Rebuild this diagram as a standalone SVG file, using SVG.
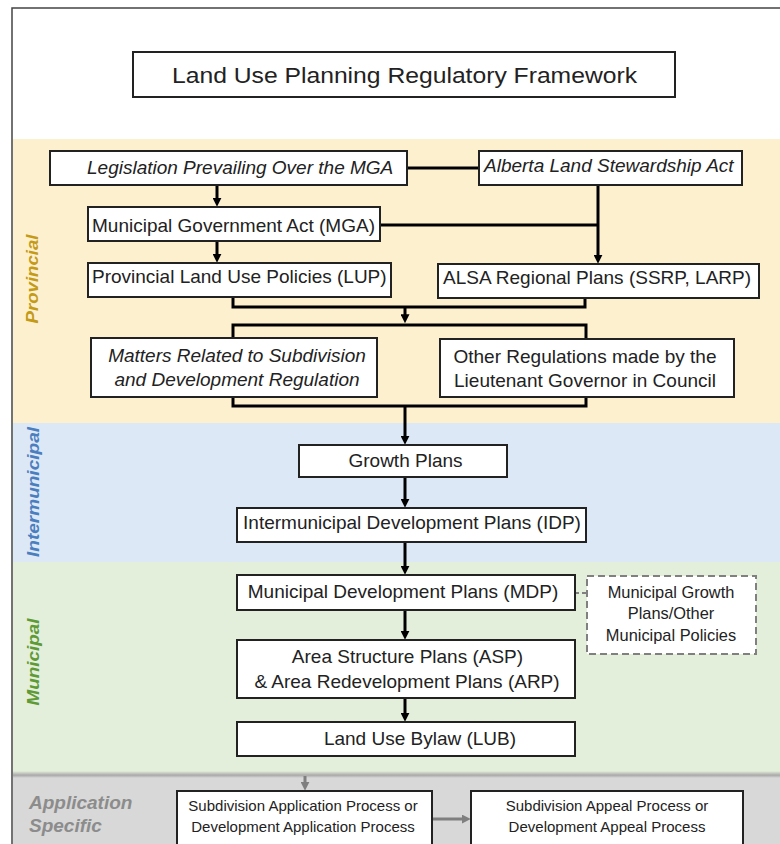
<svg xmlns="http://www.w3.org/2000/svg" width="780" height="844" viewBox="0 0 780 844">
  <defs>
    <marker id="arrow" viewBox="0 0 10 10" refX="3" refY="5" markerWidth="9" markerHeight="9" markerUnits="userSpaceOnUse" orient="auto">
      <path d="M0,0 L10,5 L0,10 z" fill="#000"/>
    </marker>
    <marker id="arrow-gray" viewBox="0 0 10 10" refX="3" refY="5" markerWidth="9" markerHeight="9" markerUnits="userSpaceOnUse" orient="auto">
      <path d="M0,0 L10,5 L0,10 z" fill="#7f7f7f"/>
    </marker>
    <linearGradient id="band-shadow" x1="0" y1="0" x2="0" y2="1">
      <stop offset="0" stop-color="#e3efda"/>
      <stop offset="0.6" stop-color="#a9a9a9"/>
      <stop offset="1" stop-color="#d8d8d8"/>
    </linearGradient>
    <style>
      text { font-family: "Liberation Sans", Arial, sans-serif; fill: #222; }
      .box { fill: #fff; stroke: #222; stroke-width: 2; }
      .dash { fill: #fff; stroke: #808080; stroke-width: 2; stroke-dasharray: 7 4; }
      .t19 { font-size: 19px; }
      .it { font-style: italic; }
      .t16 { font-size: 16.4px; }
      .t15 { font-size: 15px; }
      .mid { text-anchor: middle; }
      .band-label { font-size: 17px; font-weight: bold; font-style: italic; text-anchor: middle; }
      .conn { fill: none; stroke: #000; stroke-width: 3; }
      .conn-gray { fill: none; stroke: #7f7f7f; stroke-width: 3; }
      .conn-dash { fill: none; stroke: #808080; stroke-width: 2; stroke-dasharray: 4 3; }
    </style>
  </defs>

  <!-- background and frame -->
  <rect x="0" y="0" width="780" height="844" fill="#fff"/>
  <rect x="13" y="139" width="767" height="284" fill="#fdf0cf"/>
  <rect x="13" y="423" width="767" height="139" fill="#dde8f6"/>
  <rect x="13" y="562" width="767" height="212" fill="#e3efda"/>
  <rect x="13" y="774" width="767" height="70" fill="#d8d8d8"/>
  <rect x="13" y="771" width="767" height="7" fill="url(#band-shadow)"/>
  <path d="M12,844 V8 H780" fill="none" stroke="#444" stroke-width="1.5"/>

  <!-- band labels -->
  <text class="band-label" style="fill:#c49a16" transform="translate(38,279) rotate(-90)" textLength="89" lengthAdjust="spacingAndGlyphs">Provincial</text>
  <text class="band-label" style="fill:#4a7ebf" transform="translate(39,492) rotate(-90)" textLength="130" lengthAdjust="spacingAndGlyphs">Intermunicipal</text>
  <text class="band-label" style="fill:#5e9a36" transform="translate(39,662) rotate(-90)" textLength="87" lengthAdjust="spacingAndGlyphs">Municipal</text>
  <text x="29" y="809" font-size="19" font-weight="bold" font-style="italic" style="fill:#8c8c8c">Application</text>
  <text x="29" y="832" font-size="19" font-weight="bold" font-style="italic" style="fill:#8c8c8c">Specific</text>

  <!-- title -->
  <g id="title">
    <rect class="box" x="133" y="52" width="542" height="45"/>
    <text x="404.5" y="83" font-size="22" class="mid" textLength="465" lengthAdjust="spacingAndGlyphs">Land Use Planning Regulatory Framework</text>
  </g>

  <!-- connectors -->
  <g id="connectors">
    <line class="conn" x1="407" y1="168" x2="479" y2="168"/>
    <line class="conn" x1="217" y1="185" x2="217" y2="200.5" marker-end="url(#arrow)"/>
    <line class="conn" x1="217" y1="241" x2="217" y2="256.5" marker-end="url(#arrow)"/>
    <line class="conn" x1="380" y1="225" x2="598" y2="225"/>
    <line class="conn" x1="598" y1="185" x2="598" y2="257.5" marker-end="url(#arrow)"/>
    <path class="conn" d="M233,297 V307 H585 V298"/>
    <line class="conn" x1="405" y1="307" x2="405" y2="317" marker-end="url(#arrow)"/>
    <path class="conn" d="M233,338 V325 H586 V339"/>
    <path class="conn" d="M233,397 V406 H586 V397"/>
    <line class="conn" x1="405" y1="406" x2="405" y2="438.5" marker-end="url(#arrow)"/>
    <line class="conn" x1="405" y1="477" x2="405" y2="501.5" marker-end="url(#arrow)"/>
    <line class="conn" x1="405" y1="542" x2="405" y2="568.5" marker-end="url(#arrow)"/>
    <line class="conn" x1="405" y1="610" x2="405" y2="633.5" marker-end="url(#arrow)"/>
    <line class="conn" x1="405" y1="698" x2="405" y2="715.5" marker-end="url(#arrow)"/>
    <line class="conn-dash" x1="575" y1="593" x2="587" y2="593"/>
    <line class="conn-gray" x1="305" y1="776" x2="305" y2="784.5" marker-end="url(#arrow-gray)"/>
    <line class="conn-gray" x1="432" y1="819" x2="464.5" y2="819" marker-end="url(#arrow-gray)"/>
  </g>

  <!-- provincial -->
  <g id="legislation-prevailing">
    <rect class="box" x="50" y="151" width="357" height="34"/>
    <text class="t19 it" x="87" y="174">Legislation Prevailing Over the MGA</text>
  </g>
  <g id="alberta-land-stewardship-act">
    <rect class="box" x="479" y="151" width="263" height="34"/>
    <text class="t19 it" x="484" y="172">Alberta Land Stewardship Act</text>
  </g>
  <g id="mga">
    <rect class="box" x="88" y="207" width="292" height="34"/>
    <text class="t19" x="92" y="232">Municipal Government Act (MGA)</text>
  </g>
  <g id="lup">
    <rect class="box" x="88" y="263" width="303" height="34"/>
    <text class="t19" x="92" y="283">Provincial Land Use Policies (LUP)</text>
  </g>
  <g id="alsa-regional-plans">
    <rect class="box" x="438" y="264" width="321" height="34"/>
    <text class="t19" x="443" y="284">ALSA Regional Plans (SSRP, LARP)</text>
  </g>
  <g id="subdivision-development-regulation">
    <rect class="box" x="91" y="338" width="286" height="59"/>
    <text class="t19 it mid" x="237" y="362">Matters Related to Subdivision</text>
    <text class="t19 it mid" x="237" y="386">and Development Regulation</text>
  </g>
  <g id="other-regulations">
    <rect class="box" x="440" y="339" width="294" height="58"/>
    <text class="t19 mid" x="585" y="363">Other Regulations made by the</text>
    <text class="t19 mid" x="585" y="387">Lieutenant Governor in Council</text>
  </g>

  <!-- intermunicipal -->
  <g id="growth-plans">
    <rect class="box" x="299" y="445" width="208" height="32"/>
    <text class="t19 mid" x="405.5" y="467">Growth Plans</text>
  </g>
  <g id="idp">
    <rect class="box" x="237" y="508" width="349" height="34"/>
    <text class="t19 mid" x="412" y="529">Intermunicipal Development Plans (IDP)</text>
  </g>

  <!-- municipal -->
  <g id="mdp">
    <rect class="box" x="237" y="575" width="338" height="35"/>
    <text class="t19 mid" x="403" y="598">Municipal Development Plans (MDP)</text>
  </g>
  <g id="municipal-growth-plans">
    <rect class="dash" x="587" y="576" width="169" height="78"/>
    <text class="t16 mid" x="671" y="598">Municipal Growth</text>
    <text class="t16 mid" x="671" y="619">Plans/Other</text>
    <text class="t16 mid" x="671" y="641">Municipal Policies</text>
  </g>
  <g id="asp-arp">
    <rect class="box" x="237" y="640" width="338" height="58"/>
    <text class="t19 mid" x="407.5" y="663">Area Structure Plans (ASP)</text>
    <text class="t19 mid" x="407" y="688">&amp; Area Redevelopment Plans (ARP)</text>
  </g>
  <g id="lub">
    <rect class="box" x="237" y="722" width="338" height="34"/>
    <text class="t19 mid" x="420" y="745">Land Use Bylaw (LUB)</text>
  </g>

  <!-- application specific -->
  <g id="application-process">
    <rect class="box" x="177" y="791" width="255" height="60"/>
    <text class="t15 mid" x="303" y="811">Subdivision Application Process or</text>
    <text class="t15 mid" x="303" y="832">Development Application Process</text>
  </g>
  <g id="appeal-process">
    <rect class="box" x="471" y="791" width="272" height="60"/>
    <text class="t15 mid" x="607" y="811">Subdivision Appeal Process or</text>
    <text class="t15 mid" x="607" y="832">Development Appeal Process</text>
  </g>
</svg>
